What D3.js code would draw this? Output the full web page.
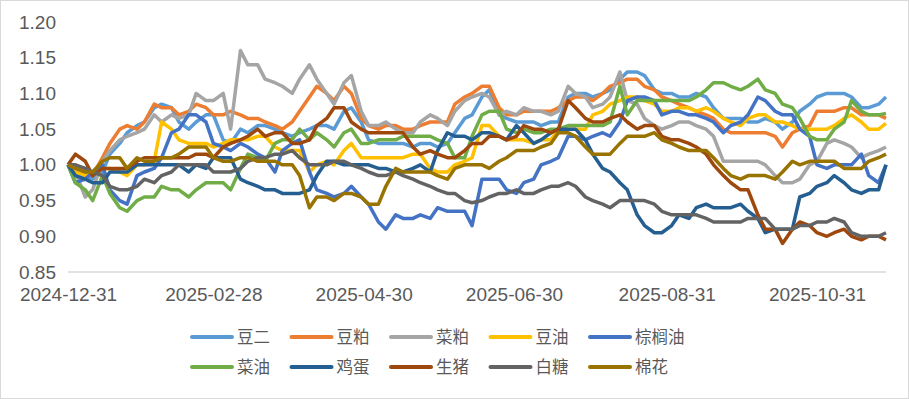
<!DOCTYPE html>
<html lang="zh">
<head>
<meta charset="utf-8">
<title>品种走势</title>
<script src="https://cdn.jsdelivr.net/npm/d3@7/dist/d3.min.js"></script>
<style>
  body { margin: 0; background: #fff; }
  text { font-family: "Noto Sans CJK SC", "Noto Sans", sans-serif; fill: #595959; }
  .axis text { font-family: "Liberation Sans", Arial, sans-serif; }
</style>
</head>
<body>
<div id="grafica"></div>
<script>
var dates = ["2024-12-31","2025-01-03","2025-01-07","2025-01-10","2025-01-14","2025-01-17","2025-01-21","2025-01-24","2025-01-28","2025-01-31",
  "2025-02-04","2025-02-07","2025-02-11","2025-02-14","2025-02-18","2025-02-21","2025-02-25","2025-02-28","2025-03-04","2025-03-07",
  "2025-03-11","2025-03-14","2025-03-18","2025-03-21","2025-03-25","2025-03-28","2025-04-01","2025-04-04","2025-04-08","2025-04-11",
  "2025-04-15","2025-04-18","2025-04-22","2025-04-25","2025-04-29","2025-05-02","2025-05-06","2025-05-09","2025-05-13","2025-05-16",
  "2025-05-20","2025-05-23","2025-05-27","2025-05-30","2025-06-03","2025-06-06","2025-06-10","2025-06-13","2025-06-17","2025-06-20",
  "2025-06-24","2025-06-27","2025-07-01","2025-07-04","2025-07-08","2025-07-11","2025-07-15","2025-07-18","2025-07-22","2025-07-25",
  "2025-07-29","2025-08-01","2025-08-05","2025-08-08","2025-08-12","2025-08-15","2025-08-19","2025-08-22","2025-08-26","2025-08-29",
  "2025-09-02","2025-09-05","2025-09-09","2025-09-12","2025-09-16","2025-09-19","2025-09-23","2025-09-26","2025-09-30","2025-10-03",
  "2025-10-07","2025-10-10","2025-10-14","2025-10-17","2025-10-21","2025-10-24","2025-10-28","2025-10-31","2025-11-04","2025-11-07",
  "2025-11-11","2025-11-14","2025-11-18","2025-11-21","2025-11-25","2025-11-28"];

var names = ["豆二","豆粕","菜粕","豆油","棕榈油","菜油","鸡蛋","生猪","白糖","棉花"];
var colors = ["#5B9BD5","#ED7D31","#A5A5A5","#FFC000","#4472C4","#70AD47","#255E91","#9E480E","#636363","#997300"];

var douEr = [1.00,0.99,0.985,0.98,0.99,1.015,1.03,1.045,1.055,1.06,1.08,1.085,1.08,1.06,1.05,1.06,1.07,1.07,1.035,1.03,
  1.05,1.045,1.055,1.055,1.05,1.045,1.04,1.045,1.05,1.055,1.055,1.05,1.075,1.08,1.06,1.035,1.03,1.03,1.03,1.03,
  1.025,1.03,1.03,1.025,1.03,1.045,1.065,1.07,1.095,1.105,1.07,1.065,1.06,1.06,1.06,1.055,1.06,1.06,1.095,1.10,
  1.10,1.095,1.10,1.105,1.12,1.13,1.13,1.125,1.105,1.10,1.10,1.095,1.095,1.10,1.095,1.08,1.065,1.065,1.065,1.06,
  1.06,1.065,1.06,1.05,1.06,1.075,1.085,1.095,1.10,1.10,1.10,1.095,1.08,1.08,1.085,1.095];
var douPo = [1.00,1.00,0.99,0.985,1.01,1.03,1.05,1.055,1.05,1.06,1.085,1.08,1.08,1.07,1.075,1.085,1.08,1.07,1.07,1.075,
  1.07,1.065,1.065,1.06,1.055,1.05,1.06,1.075,1.095,1.11,1.10,1.09,1.11,1.10,1.065,1.055,1.05,1.055,1.055,1.05,
  1.05,1.055,1.06,1.06,1.06,1.085,1.095,1.10,1.11,1.11,1.08,1.07,1.07,1.075,1.075,1.075,1.075,1.08,1.09,1.095,
  1.095,1.09,1.10,1.11,1.115,1.12,1.12,1.11,1.105,1.095,1.09,1.085,1.08,1.075,1.07,1.065,1.05,1.045,1.045,1.045,
  1.045,1.045,1.04,1.025,1.045,1.05,1.055,1.075,1.075,1.075,1.08,1.08,1.07,1.07,1.07,1.065];
var caiPo = [1.00,0.99,0.955,0.965,1.005,1.02,1.035,1.04,1.045,1.05,1.07,1.06,1.07,1.065,1.07,1.10,1.09,1.09,1.10,1.05,
  1.16,1.14,1.14,1.12,1.115,1.11,1.10,1.12,1.14,1.12,1.10,1.085,1.115,1.125,1.075,1.055,1.055,1.06,1.05,1.045,
  1.045,1.06,1.07,1.065,1.055,1.075,1.09,1.095,1.10,1.095,1.07,1.075,1.07,1.08,1.075,1.075,1.07,1.075,1.11,1.10,
  1.095,1.08,1.085,1.095,1.13,1.09,1.085,1.065,1.055,1.05,1.055,1.06,1.06,1.055,1.05,1.04,1.005,1.005,1.005,1.005,
  1.005,1.00,0.985,0.975,0.975,0.98,1.00,1.005,1.03,1.035,1.03,1.025,1.01,1.015,1.02,1.025];
var douYou = [1.00,0.99,0.985,0.99,0.995,0.995,0.99,0.985,1.00,1.00,1.005,1.06,1.05,1.035,1.03,1.03,1.03,1.025,1.03,1.035,
  1.035,1.035,1.04,1.04,1.025,1.02,1.02,1.02,0.99,1.00,1.005,1.00,1.02,1.03,1.01,1.01,1.01,1.01,1.01,1.01,
  1.015,1.015,0.995,0.99,0.99,1.00,1.005,1.01,1.055,1.055,1.04,1.035,1.035,1.035,1.03,1.035,1.035,1.05,1.05,1.05,
  1.05,1.07,1.075,1.085,1.09,1.095,1.095,1.09,1.085,1.075,1.075,1.08,1.08,1.075,1.08,1.075,1.065,1.06,1.055,1.065,
  1.07,1.07,1.06,1.06,1.055,1.05,1.05,1.05,1.05,1.055,1.065,1.07,1.06,1.05,1.05,1.058];
var zongLv = [1.00,0.975,0.98,0.99,1.00,0.965,0.95,0.945,0.985,0.99,0.995,1.01,1.045,1.05,1.07,1.07,1.06,1.03,1.025,1.02,
  1.03,1.025,1.015,1.01,0.99,1.02,1.03,1.035,0.99,0.965,0.96,0.955,0.96,0.97,0.955,0.945,0.92,0.91,0.93,0.925,
  0.925,0.93,0.925,0.94,0.935,0.935,0.935,0.915,0.98,0.98,0.98,0.965,0.96,0.975,0.98,1.00,1.005,1.01,1.04,1.04,
  1.035,1.04,1.045,1.04,1.06,1.09,1.095,1.095,1.09,1.07,1.075,1.075,1.07,1.07,1.065,1.06,1.045,1.055,1.06,1.07,
  1.095,1.09,1.075,1.07,1.07,1.05,1.04,1.00,0.995,1.00,1.00,1.00,1.015,0.985,0.975,1.00];
var caiYou = [1.00,0.975,0.965,0.95,0.985,0.96,0.94,0.935,0.95,0.955,0.955,0.97,0.965,0.965,0.955,0.965,0.975,0.975,0.975,0.965,
  0.995,1.015,1.01,1.005,1.03,1.035,1.035,1.05,1.035,1.045,1.035,1.025,1.045,1.05,1.03,1.03,1.035,1.035,1.035,1.04,
  1.04,1.04,1.04,1.035,1.03,1.01,1.01,1.04,1.07,1.075,1.075,1.05,1.045,1.05,1.045,1.045,1.05,1.05,1.055,1.055,
  1.055,1.055,1.055,1.06,1.11,1.07,1.09,1.09,1.09,1.09,1.09,1.09,1.09,1.095,1.105,1.115,1.115,1.11,1.105,1.11,
  1.12,1.105,1.10,1.085,1.08,1.065,1.04,1.035,1.035,1.05,1.06,1.09,1.075,1.07,1.07,1.072];
var jiDan = [1.00,0.985,0.98,0.975,0.975,0.99,0.99,0.99,1.00,1.00,1.00,1.00,1.00,1.00,0.99,1.00,0.995,1.01,1.01,1.01,
  0.98,0.975,0.97,0.965,0.965,0.96,0.96,0.96,0.965,0.985,1.005,1.005,1.00,1.00,1.00,1.00,0.995,0.995,0.99,0.99,
  0.995,1.00,0.99,1.02,1.045,1.04,1.04,1.035,1.045,1.045,1.04,1.035,1.055,1.045,1.03,1.035,1.045,1.05,1.05,1.05,
  1.035,1.015,0.995,0.99,0.975,0.965,0.93,0.915,0.905,0.905,0.915,0.93,0.925,0.94,0.945,0.94,0.94,0.94,0.945,0.935,
  0.925,0.905,0.91,0.91,0.91,0.955,0.96,0.97,0.975,0.985,0.975,0.965,0.96,0.965,0.965,1.00];
var shengZhu = [1.00,1.015,1.005,0.985,0.995,0.995,0.995,0.995,1.005,1.01,1.01,1.01,1.01,1.01,1.01,1.015,1.015,1.01,1.025,1.03,
  1.035,1.04,1.05,1.04,1.045,1.045,1.03,1.03,1.035,1.055,1.065,1.08,1.08,1.06,1.05,1.045,1.045,1.045,1.045,1.045,
  1.025,1.015,1.02,1.015,1.01,1.01,1.02,1.03,1.03,1.04,1.04,1.035,1.04,1.055,1.05,1.05,1.045,1.05,1.09,1.08,
  1.065,1.06,1.06,1.065,1.07,1.06,1.05,1.055,1.055,1.04,1.035,1.035,1.03,1.025,1.015,1.00,0.985,0.975,0.965,0.965,
  0.93,0.91,0.91,0.89,0.91,0.92,0.915,0.905,0.90,0.905,0.91,0.90,0.895,0.90,0.90,0.895];
var baiTang = [1.00,1.00,0.995,0.99,0.985,0.97,0.965,0.965,0.97,0.98,0.975,0.985,0.99,1.00,1.00,1.00,1.00,0.99,0.99,0.99,
  0.995,1.005,1.01,1.01,1.015,1.015,1.02,1.01,1.00,1.00,1.00,1.005,1.005,1.00,0.995,0.99,0.985,0.985,0.99,0.985,
  0.98,0.975,0.97,0.965,0.96,0.96,0.95,0.947,0.95,0.955,0.96,0.96,0.965,0.96,0.96,0.965,0.97,0.97,0.975,0.97,
  0.955,0.95,0.945,0.94,0.95,0.95,0.95,0.95,0.945,0.935,0.93,0.93,0.93,0.93,0.925,0.92,0.92,0.92,0.92,0.925,
  0.925,0.925,0.91,0.91,0.91,0.915,0.915,0.92,0.92,0.925,0.92,0.905,0.90,0.90,0.90,0.905];
var mianHua = [1.00,0.995,0.99,0.99,1.005,1.01,1.01,0.995,1.01,1.005,1.005,1.01,1.01,1.015,1.025,1.025,1.025,1.01,1.005,1.005,
  1.01,1.01,1.005,1.005,1.005,1.00,1.00,0.985,0.94,0.955,0.955,0.95,0.96,0.96,0.955,0.945,0.945,0.97,0.995,0.99,
  0.99,0.99,0.99,0.985,0.98,0.995,1.00,1.00,1.00,0.995,1.005,1.01,1.02,1.02,1.02,1.025,1.03,1.045,1.045,1.04,
  1.025,1.015,1.015,1.015,1.03,1.04,1.04,1.04,1.045,1.035,1.03,1.025,1.02,1.02,1.02,1.01,0.995,0.985,0.98,0.985,
  0.985,0.985,0.98,0.99,1.005,1.00,1.005,1.005,1.005,1.005,0.995,0.995,0.995,1.005,1.01,1.015];

var series = [douEr, douPo, caiPo, douYou, zongLv, caiYou, jiDan, shengZhu, baiTang, mianHua];
series.forEach(function(s, k){
  if (s.length != dates.length) throw new Error(names[k] + " has " + s.length + " values, dates " + dates.length);
});

var yTicks = [0.85,0.90,0.95,1.00,1.05,1.10,1.15,1.20];
var xTicks = ["2024-12-31","2025-02-28","2025-04-30","2025-06-30","2025-08-31","2025-10-31"];

var w = 909;
var h = 399;
var parse = d3.timeParse("%Y-%m-%d");
var fmt = d3.timeFormat("%Y-%m-%d");

var svg = d3.select("#grafica")
            .append("svg")
            .attr("width", w)
            .attr("height", h);

// chart area border
svg.append("rect")
   .attr("x", 0.5).attr("y", 0.5)
   .attr("width", w - 1).attr("height", h - 1)
   .attr("fill", "#fff")
   .attr("stroke", "#D9D9D9");

var x = d3.scaleTime()
          .domain([parse(dates[0]), parse(dates[dates.length - 1])])
          .range([68, 886]);
var y = d3.scaleLinear()
          .domain([0.85, 1.20])
          .range([272, 22]);

var yAxis = svg.append("g")
   .attr("class", "axis")
   .attr("transform", "translate(58,0)")
   .call(d3.axisLeft(y).tickValues(yTicks).tickFormat(d3.format(".2f")).tickSize(0).tickPadding(2));
yAxis.select(".domain").remove();
yAxis.selectAll("text").style("font-size", "19px").attr("fill", "#595959");

svg.append("line")
   .attr("x1", 68).attr("x2", 886)
   .attr("y1", y(0.85)).attr("y2", y(0.85))
   .attr("stroke", "#D9D9D9")
   .attr("stroke-width", 1.5);

var xAxis = svg.append("g")
   .attr("class", "axis")
   .attr("transform", "translate(0," + y(0.85) + ")")
   .call(d3.axisBottom(x).tickValues(xTicks.map(parse)).tickFormat(fmt).tickSize(0).tickPadding(15.5));
xAxis.select(".domain").remove();
xAxis.selectAll("text").style("font-size", "19px").attr("fill", "#595959");

var line = d3.line()
             .x(function(d, i){ return x(parse(dates[i])); })
             .y(function(d){ return y(d); });

series.forEach(function(s, k){
  svg.append("path")
     .datum(s)
     .attr("d", line)
     .attr("fill", "none")
     .attr("stroke", colors[k])
     .attr("stroke-width", 3.5)
     .attr("stroke-linejoin", "round");
});

// legend, 5 per row
var legend = svg.selectAll(".leg")
   .data(names)
   .enter()
   .append("g")
   .attr("transform", function(d, i){
      return "translate(" + (192 + (i % 5) * 99.5) + "," + (337 + Math.floor(i / 5) * 30) + ")";
   });

legend.append("line")
   .attr("x1", 0).attr("x2", 40)
   .attr("stroke", function(d, i){ return colors[i]; })
   .attr("stroke-width", 4)
   .attr("stroke-linecap", "round");

legend.append("text")
   .attr("x", 45)
   .attr("dy", "0.35em")
   .style("font-size", "16.5px")
   .text(function(d){ return d; });
</script>
</body>
</html>
